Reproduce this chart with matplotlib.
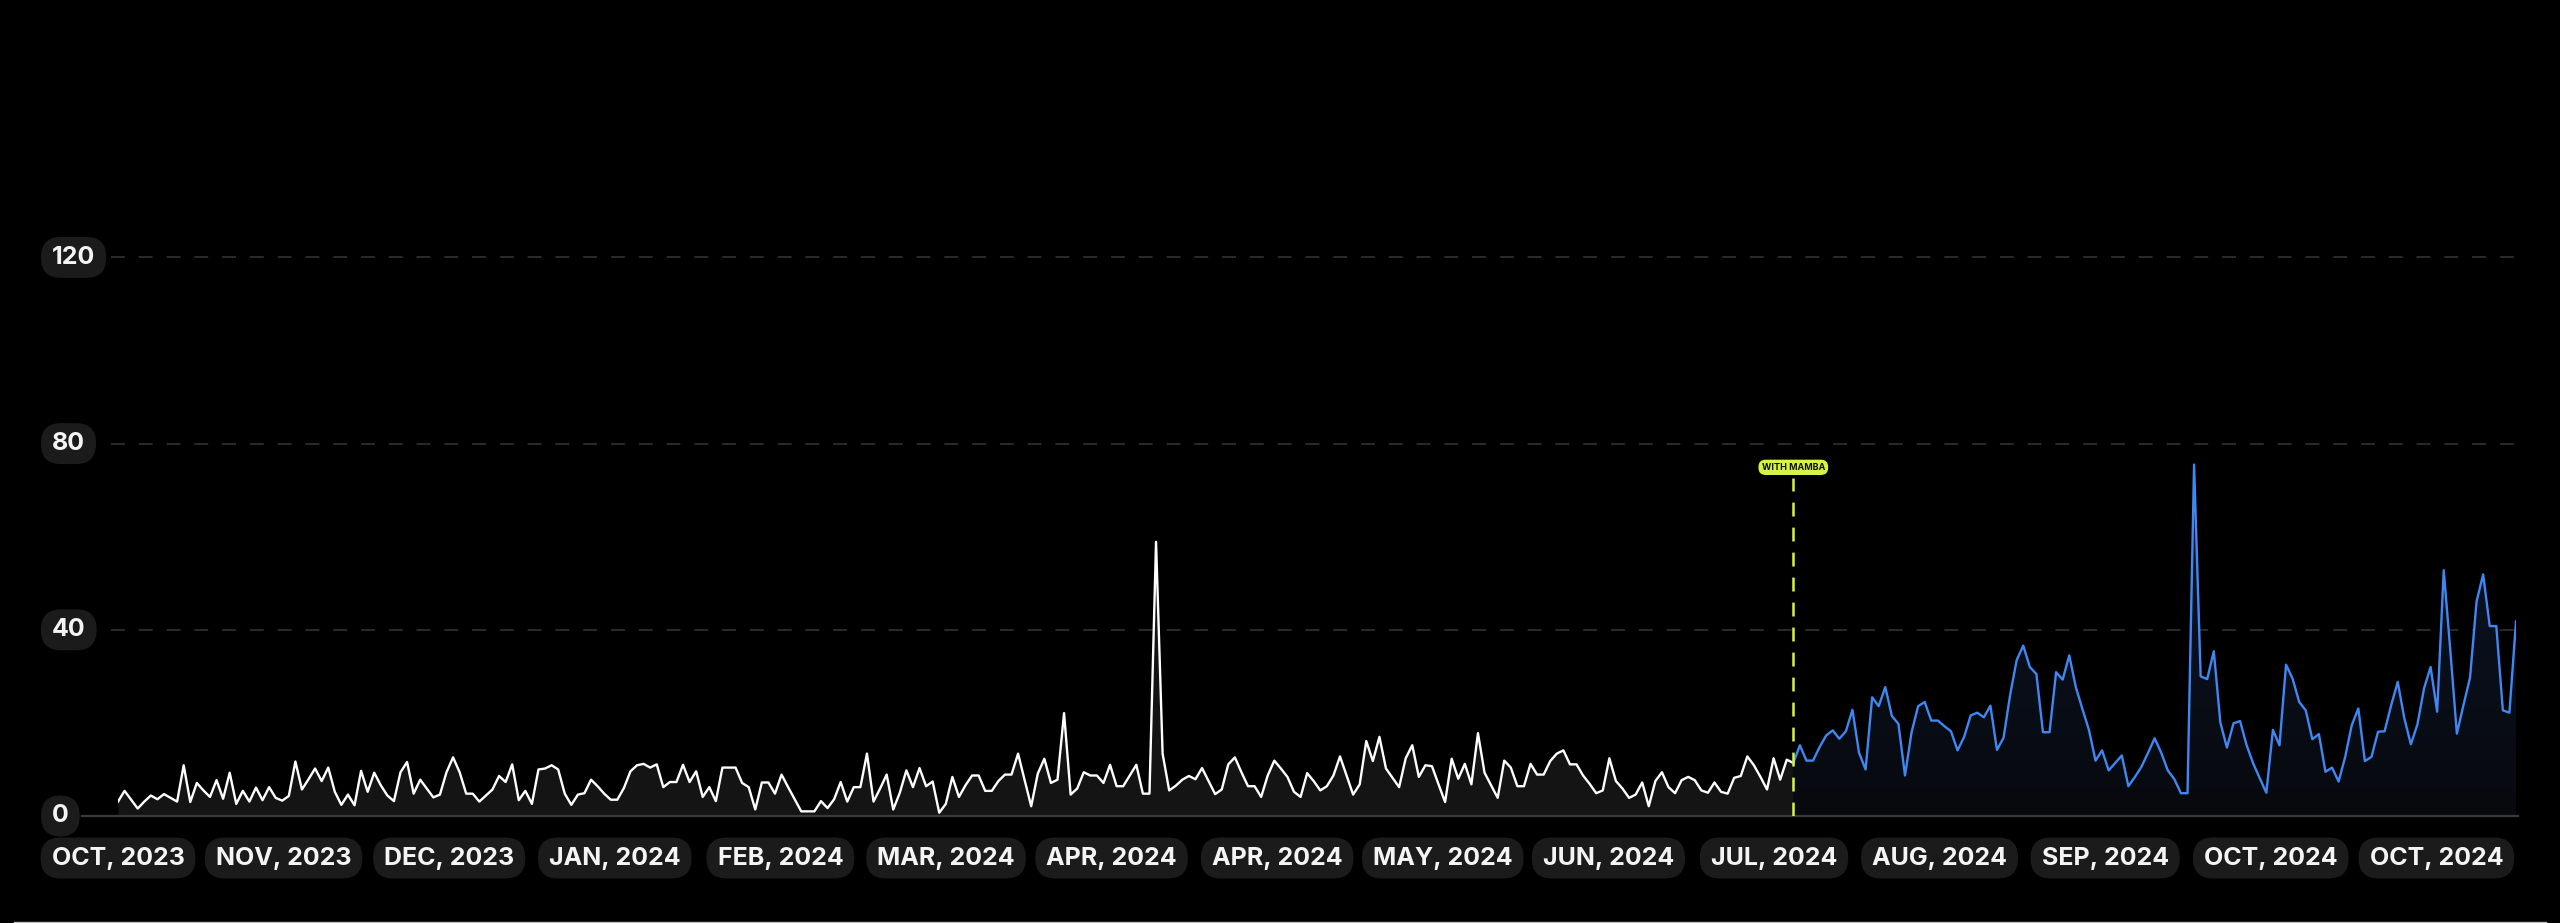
import numpy as np
import matplotlib
matplotlib.use("Agg")
import matplotlib.pyplot as plt
from matplotlib.patches import FancyBboxPatch
from matplotlib.lines import Line2D
from matplotlib.transforms import IdentityTransform
from matplotlib.colors import LinearSegmentedColormap

# ---------------- data ----------------
before_values = [
    3.1, 5.4, 3.5, 1.6, 3.1, 4.4, 3.6, 4.7, 3.9, 3.1,
    10.9, 3.0, 7.1, 5.5, 4.1, 7.7, 3.7, 9.3, 2.6, 5.4,
    3.1, 6.1, 3.4, 6.2, 3.9, 3.3, 4.3, 11.7, 5.7, 7.9,
    10.2, 7.5, 10.4, 5.2, 2.4, 4.6, 2.3, 9.7, 5.2, 9.3,
    6.6, 4.4, 3.2, 9.4, 11.6, 4.8, 7.8, 5.9, 4.0, 4.6,
    9.4, 12.6, 9.4, 4.8, 4.8, 3.1, 4.4, 5.7, 8.6, 7.3,
    11.1, 3.4,
    5.4, 2.6, 10.0, 10.2, 10.9, 10.0, 4.8, 2.4, 4.6, 4.9,
    7.8, 6.4, 4.8, 3.5, 3.5, 6.0, 9.6, 10.9, 11.2, 10.4,
    11.1, 6.2, 7.3, 7.3, 11.0, 7.3, 9.6, 4.1, 6.2, 3.2,
    10.4, 10.4, 10.4, 7.1, 6.2, 1.4, 7.2, 7.2, 4.8, 8.9,
    6.2, 3.6, 1.0, 1.0, 1.0, 3.2, 1.7, 3.6, 7.3, 3.1,
    6.2, 6.2, 13.4, 3.1, 5.9, 8.9, 1.4, 5.0, 9.8, 6.2,
    10.3,
    6.4, 7.4, 0.7, 2.6, 8.4, 4.1, 6.6, 8.7, 8.7, 5.4,
    5.4, 7.5, 8.9, 8.9, 13.4, 7.7, 2.1, 9.1, 12.3, 7.1,
    7.8, 22.1, 4.6, 5.9, 9.4, 8.7, 8.7, 7.1, 11.0, 6.4,
    6.4, 8.7, 11.0, 4.8, 4.8, 58.9, 13.4, 5.5, 6.5, 7.8,
    8.6, 7.9, 10.3, 7.5, 4.7, 5.7, 11.1, 12.6, 9.4, 6.4,
    6.4, 4.1, 8.7, 11.9, 10.2, 8.4, 5.2, 4.1, 9.2,
    7.5, 5.5, 6.4, 8.7, 12.8, 8.7, 4.6, 6.8, 16.1, 11.8,
    17.0, 10.2, 8.2, 6.2, 12.4, 15.2, 8.4, 10.9, 10.7, 6.8,
    3.0, 12.3, 8.0, 11.2, 6.8, 17.8, 9.3, 6.6, 3.9, 11.9,
    10.4, 6.4, 6.4, 11.2, 8.9, 8.9, 11.8, 13.4, 14.1, 11.1,
    11.1, 8.7, 6.9, 4.9, 5.5, 12.4, 7.5, 5.9, 3.9, 4.6,
    7.2, 2.1, 7.5, 9.4, 6.2, 4.9, 7.7, 8.4, 7.7, 5.5,
    5.0, 7.2, 5.2,
    4.8, 8.2, 8.6, 12.8, 10.9, 8.4, 5.7, 12.4, 7.8, 12.1,
    11.4,
]

after_values = [
    11.4,
    15.2, 11.9, 11.9, 14.8, 17.3, 18.4, 16.6, 18.2, 22.8, 13.6,
    10.0, 25.5, 23.6, 27.7, 21.5, 19.8, 8.7, 18.0, 23.6, 24.5,
    20.5, 20.5, 19.3, 18.2, 14.1, 17.0, 21.6, 22.2, 21.2, 23.7,
    14.2, 16.8, 26.0, 33.5, 36.6, 32.0, 30.5, 18.0, 18.0, 30.9,
    29.3, 34.5, 27.7, 23.0, 18.5, 11.9, 14.1, 9.8, 11.4, 13.0,
    6.4, 8.4, 10.6, 13.6, 16.7, 13.6, 9.8, 7.9, 4.9, 4.9,
    75.5, 30.0, 29.4, 35.4, 20.1, 14.7, 19.9, 20.4, 15.2, 11.3,
    8.1, 5.0, 18.5, 15.2, 32.5, 29.5, 24.5, 22.7, 16.5, 17.6,
    9.5, 10.4, 7.4, 12.7, 19.5, 23.1, 11.8, 12.7, 18.1, 18.2,
    23.8, 28.8, 21.0, 15.4, 19.7, 27.4, 32.0, 22.4, 52.8, 35.6,
    17.7, 23.8, 29.7, 46.1, 51.9, 40.8, 40.8, 22.7, 22.2, 41.8,
]

y_tick_values = [0, 40, 80, 120]
x_tick_labels = [
    "OCT, 2023", "NOV, 2023", "DEC, 2023", "JAN, 2024", "FEB, 2024",
    "MAR, 2024", "APR, 2024", "APR, 2024", "MAY, 2024", "JUN, 2024",
    "JUL, 2024", "AUG, 2024", "SEP, 2024", "OCT, 2024", "OCT, 2024",
]
marker_label = "WITH MAMBA"

# ---------------- styling ----------------
W, H = 2560, 923
BG = "#000000"
PILL = "#1b1b1b"
WHITE_LINE = "#ffffff"
WHITE_FILL = "#141414"
BLUE = "#3f87f2"
LIME = "#d5f545"
GRID = "#2e2e2e"
FONT = ["Inter", "DejaVu Sans"]

plt.rcParams["lines.scale_dashes"] = False

fig = plt.figure(figsize=(W / 100, H / 100), dpi=100, facecolor=BG)

def fx(px):
    return px / W

def fy(py):
    return 1 - py / H

X0, X1 = 118, 2516          # pixel extents of the data
Y0 = 816                    # pixel row of value 0
PX_PER_UNIT = 4.655
YMAX = 130
ax = fig.add_axes([fx(X0), fy(Y0), fx(X1) - fx(X0), YMAX * PX_PER_UNIT / H])
ax.set_facecolor(BG)
for s in ax.spines.values():
    s.set_visible(False)
ax.set_xticks([])
ax.set_yticks([])

n_before = len(before_values)
x_before = np.arange(n_before)
split = n_before - 1
x_after = np.arange(split, split + len(after_values))
N = split + len(after_values)

# grid lines
ytr = ax.get_yaxis_transform()
grid_start = (111 - X0) / (X1 - X0)
for v in y_tick_values[1:]:
    ax.plot([grid_start, 1], [v, v], transform=ytr, color=GRID, lw=1.3,
            dashes=(10, 10), clip_on=False, zorder=1)

# fills
ax.fill_between(x_before, before_values, 0, color=WHITE_FILL, lw=0, zorder=2)
poly = ax.fill_between(x_after, after_values, 0, color="none", lw=0, zorder=2)
grad = np.linspace(1, 0, 256).reshape(-1, 1)
cmap = LinearSegmentedColormap.from_list("g", ["#07090e", "#0d1628"])
im = ax.imshow(grad, cmap=cmap, aspect="auto", origin="upper",
               extent=[x_after[0], x_after[-1], 0, max(after_values)], zorder=2)
im.set_clip_path(poly.get_paths()[0], transform=ax.transData)
ax.set_xlim(0, N - 1)
ax.set_ylim(0, YMAX)

# baseline
ax.plot([(82 - X0) / (X1 - X0), (2518 - X0) / (X1 - X0)], [0, 0], transform=ytr,
        color="#3a3a3a", lw=1.6, clip_on=False, zorder=3)

# lines
ax.plot(x_before, before_values, color=WHITE_LINE, lw=1.7, zorder=4,
        solid_joinstyle="round")
ax.plot(x_after, after_values, color=BLUE, lw=1.7, zorder=4,
        solid_joinstyle="round")

# marker line + pill
ax.plot([split, split], [0, 72.6], color=LIME, lw=1.8, dashes=(10, 8), zorder=5)
ax.text(split, 74.9, marker_label, ha="center", va="center", fontsize=6.5,
        fontweight="bold", color="#111111", family=FONT, zorder=6,
        bbox=dict(boxstyle="round,pad=0.35,rounding_size=0.8", fc=LIME, ec="none"))

# ---------------- tick label texts (figure level, drawn above pills) ----------------
texts = []
PADX = 11
PH = 41
for v in y_tick_values:
    t = fig.text(fx(41 + PADX), fy(Y0 - v * PX_PER_UNIT), str(v), ha="left", va="center",
                 fontsize=18, fontweight="bold", color="#f4f4f4",
                 family=FONT, zorder=11)
    texts.append(t)

tick_step_px = 165.6
for i, lab in enumerate(x_tick_labels):
    t = fig.text(fx(X0 + i * tick_step_px), fy(858), lab, ha="center", va="center",
                 fontsize=18, fontweight="bold", color="#f4f4f4",
                 family=FONT, zorder=11)
    texts.append(t)

fig.canvas.draw()
renderer = fig.canvas.get_renderer()
for t in texts:
    bb = t.get_window_extent(renderer)
    cy = (bb.y0 + bb.y1) / 2
    pw = bb.width + 2 * PADX
    patch = FancyBboxPatch((bb.x0 - PADX, cy - PH / 2), pw, PH,
                           boxstyle="round,pad=0,rounding_size=20",
                           transform=IdentityTransform(), fc=PILL, ec="none",
                           zorder=10)
    fig.patches.append(patch)

# thin bottom border
fig.lines.append(Line2D([fx(14), fx(2546)], [fy(922), fy(922)], transform=fig.transFigure,
                        color="#bdbdbd", lw=1.0))

fig.savefig("out.png", dpi=100, facecolor=BG)
